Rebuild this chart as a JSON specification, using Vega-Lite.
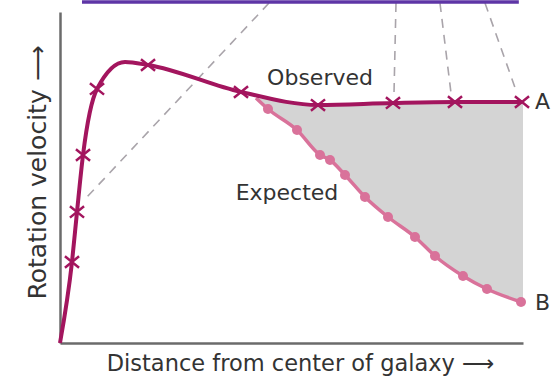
{
  "$schema": "https://vega.github.io/schema/vega-lite/v6.json",
  "autosize": {"type": "none"},
  "width": 463,
  "height": 331,
  "padding": {"left": 60, "top": 12, "right": 29, "bottom": 40},
  "background": "white",
  "config": {"view": {"stroke": null}},
  "datasets": {
    "observed": [
      {"d": 0, "v": 0, "marker": false},
      {"d": 2.59, "v": 24.47, "marker": true},
      {"d": 3.67, "v": 39.58, "marker": true},
      {"d": 4.97, "v": 56.8, "marker": true},
      {"d": 7.99, "v": 76.74, "marker": true},
      {"d": 14.04, "v": 84.89, "marker": false},
      {"d": 19.01, "v": 83.99, "marker": true},
      {"d": 39.09, "v": 75.83, "marker": true},
      {"d": 55.72, "v": 71.9, "marker": true},
      {"d": 71.92, "v": 72.51, "marker": true},
      {"d": 85.31, "v": 72.81, "marker": true},
      {"d": 99.78, "v": 72.81, "marker": true}
    ],
    "expected": [
      {"d": 42.33, "v": 74.02, "dot": false},
      {"d": 44.92, "v": 70.69, "dot": true},
      {"d": 51.19, "v": 64.35, "dot": true},
      {"d": 56.16, "v": 56.8, "dot": true},
      {"d": 58.32, "v": 55.29, "dot": true},
      {"d": 61.56, "v": 50.75, "dot": true},
      {"d": 65.87, "v": 44.11, "dot": true},
      {"d": 70.84, "v": 38.07, "dot": true},
      {"d": 76.67, "v": 32.02, "dot": true},
      {"d": 80.99, "v": 26.28, "dot": true},
      {"d": 87.04, "v": 20.24, "dot": true},
      {"d": 92.22, "v": 16.31, "dot": true},
      {"d": 99.57, "v": 12.39, "dot": true}
    ],
    "gap": [
      {"d": 42.33, "top": 74.02, "bottom": 74.02},
      {"d": 44.92, "top": 73.72, "bottom": 70.69},
      {"d": 51.19, "top": 72.81, "bottom": 64.35},
      {"d": 56.16, "top": 71.9, "bottom": 56.8},
      {"d": 58.32, "top": 71.95, "bottom": 55.29},
      {"d": 61.56, "top": 72.0, "bottom": 50.75},
      {"d": 65.87, "top": 72.2, "bottom": 44.11},
      {"d": 70.84, "top": 72.51, "bottom": 38.07},
      {"d": 76.67, "top": 72.55, "bottom": 32.02},
      {"d": 80.99, "top": 72.66, "bottom": 26.28},
      {"d": 87.04, "top": 72.81, "bottom": 20.24},
      {"d": 92.22, "top": 72.81, "bottom": 16.31},
      {"d": 99.57, "top": 72.81, "bottom": 12.39},
      {"d": 100, "top": 72.81, "bottom": 12.3}
    ],
    "dashes": [
      {"d1": 45.14, "v1": 102.7, "d2": 5.83, "v2": 44.1},
      {"d1": 72.57, "v1": 102.7, "d2": 72.14, "v2": 75.5},
      {"d1": 82.07, "v1": 102.7, "d2": 84.45, "v2": 75.5},
      {"d1": 91.79, "v1": 102.7, "d2": 98.7, "v2": 75.5}
    ],
    "frame": [
      {"d1": 4.75, "d2": 99.1, "v": 103.0}
    ],
    "labels": [
      {"d": 56.16, "v": 80.06, "text": "Observed", "align": "center"},
      {"d": 49.03, "v": 45.32, "text": "Expected", "align": "center"},
      {"d": 104.2, "v": 72.81, "text": "A", "align": "left"},
      {"d": 104.2, "v": 12.08, "text": "B", "align": "left"}
    ]
  },
  "layer": [
    {
      "data": {"name": "gap"},
      "mark": {"type": "area", "color": "#D4D4D4", "interpolate": "monotone", "opacity": 1},
      "encoding": {
        "x": {"field": "d", "type": "quantitative", "scale": {"domain": [0, 100], "nice": false, "zero": false},
          "axis": {"title": "Distance from center of galaxy ⟶", "domain": true, "domainColor": "#6b6b6b", "domainWidth": 2.5, "ticks": false, "labels": false, "grid": false,
            "titleFont": "DejaVu Sans", "titleFontSize": 22.5, "titleFontWeight": "normal", "titleColor": "#333333", "titlePadding": 9, "titleX": 240}},
        "y": {"field": "top", "type": "quantitative", "scale": {"domain": [0, 100], "nice": false, "zero": false},
          "axis": {"title": "Rotation velocity ⟶", "domain": true, "domainColor": "#6b6b6b", "domainWidth": 2.5, "ticks": false, "labels": false, "grid": false,
            "titleFont": "DejaVu Sans", "titleFontSize": 25, "titleFontWeight": "normal", "titleColor": "#333333", "titlePadding": 10, "titleY": 160}},
        "y2": {"field": "bottom"}
      }
    },
    {
      "data": {"name": "dashes"},
      "mark": {"type": "rule", "color": "#A9A4AA", "strokeWidth": 1.6, "strokeDash": [9, 7]},
      "encoding": {
        "x": {"field": "d1", "type": "quantitative"},
        "y": {"field": "v1", "type": "quantitative"},
        "x2": {"field": "d2"},
        "y2": {"field": "v2"}
      }
    },
    {
      "data": {"name": "frame"},
      "mark": {"type": "rule", "color": "#5E35A6", "strokeWidth": 3.5},
      "encoding": {
        "x": {"field": "d1", "type": "quantitative"},
        "x2": {"field": "d2"},
        "y": {"field": "v", "type": "quantitative"}
      }
    },
    {
      "data": {"name": "expected"},
      "mark": {"type": "line", "color": "#D9729A", "strokeWidth": 3.5, "interpolate": "monotone"},
      "encoding": {
        "x": {"field": "d", "type": "quantitative"},
        "y": {"field": "v", "type": "quantitative"}
      }
    },
    {
      "data": {"name": "expected"},
      "transform": [{"filter": "datum.dot"}],
      "mark": {"type": "point", "shape": "circle", "filled": true, "color": "#D9729A", "size": 100, "opacity": 1},
      "encoding": {
        "x": {"field": "d", "type": "quantitative"},
        "y": {"field": "v", "type": "quantitative"}
      }
    },
    {
      "data": {"name": "observed"},
      "mark": {"type": "line", "color": "#A3155E", "strokeWidth": 4, "interpolate": "monotone"},
      "encoding": {
        "x": {"field": "d", "type": "quantitative"},
        "y": {"field": "v", "type": "quantitative"}
      }
    },
    {
      "data": {"name": "observed"},
      "transform": [{"filter": "datum.marker"}],
      "mark": {"type": "point", "shape": "M-1,-0.8L1,0.8M-1,0.8L1,-0.8", "filled": false, "color": "#A3155E", "strokeWidth": 2.5, "size": 200, "opacity": 1},
      "encoding": {
        "x": {"field": "d", "type": "quantitative"},
        "y": {"field": "v", "type": "quantitative"}
      }
    },
    {
      "data": {"name": "labels"},
      "mark": {"type": "text", "font": "DejaVu Sans", "fontSize": 22, "color": "#333333", "baseline": "middle"},
      "encoding": {
        "x": {"field": "d", "type": "quantitative"},
        "y": {"field": "v", "type": "quantitative"},
        "text": {"field": "text"},
        "align": {"field": "align", "type": "nominal", "scale": null}
      }
    }
  ]
}
